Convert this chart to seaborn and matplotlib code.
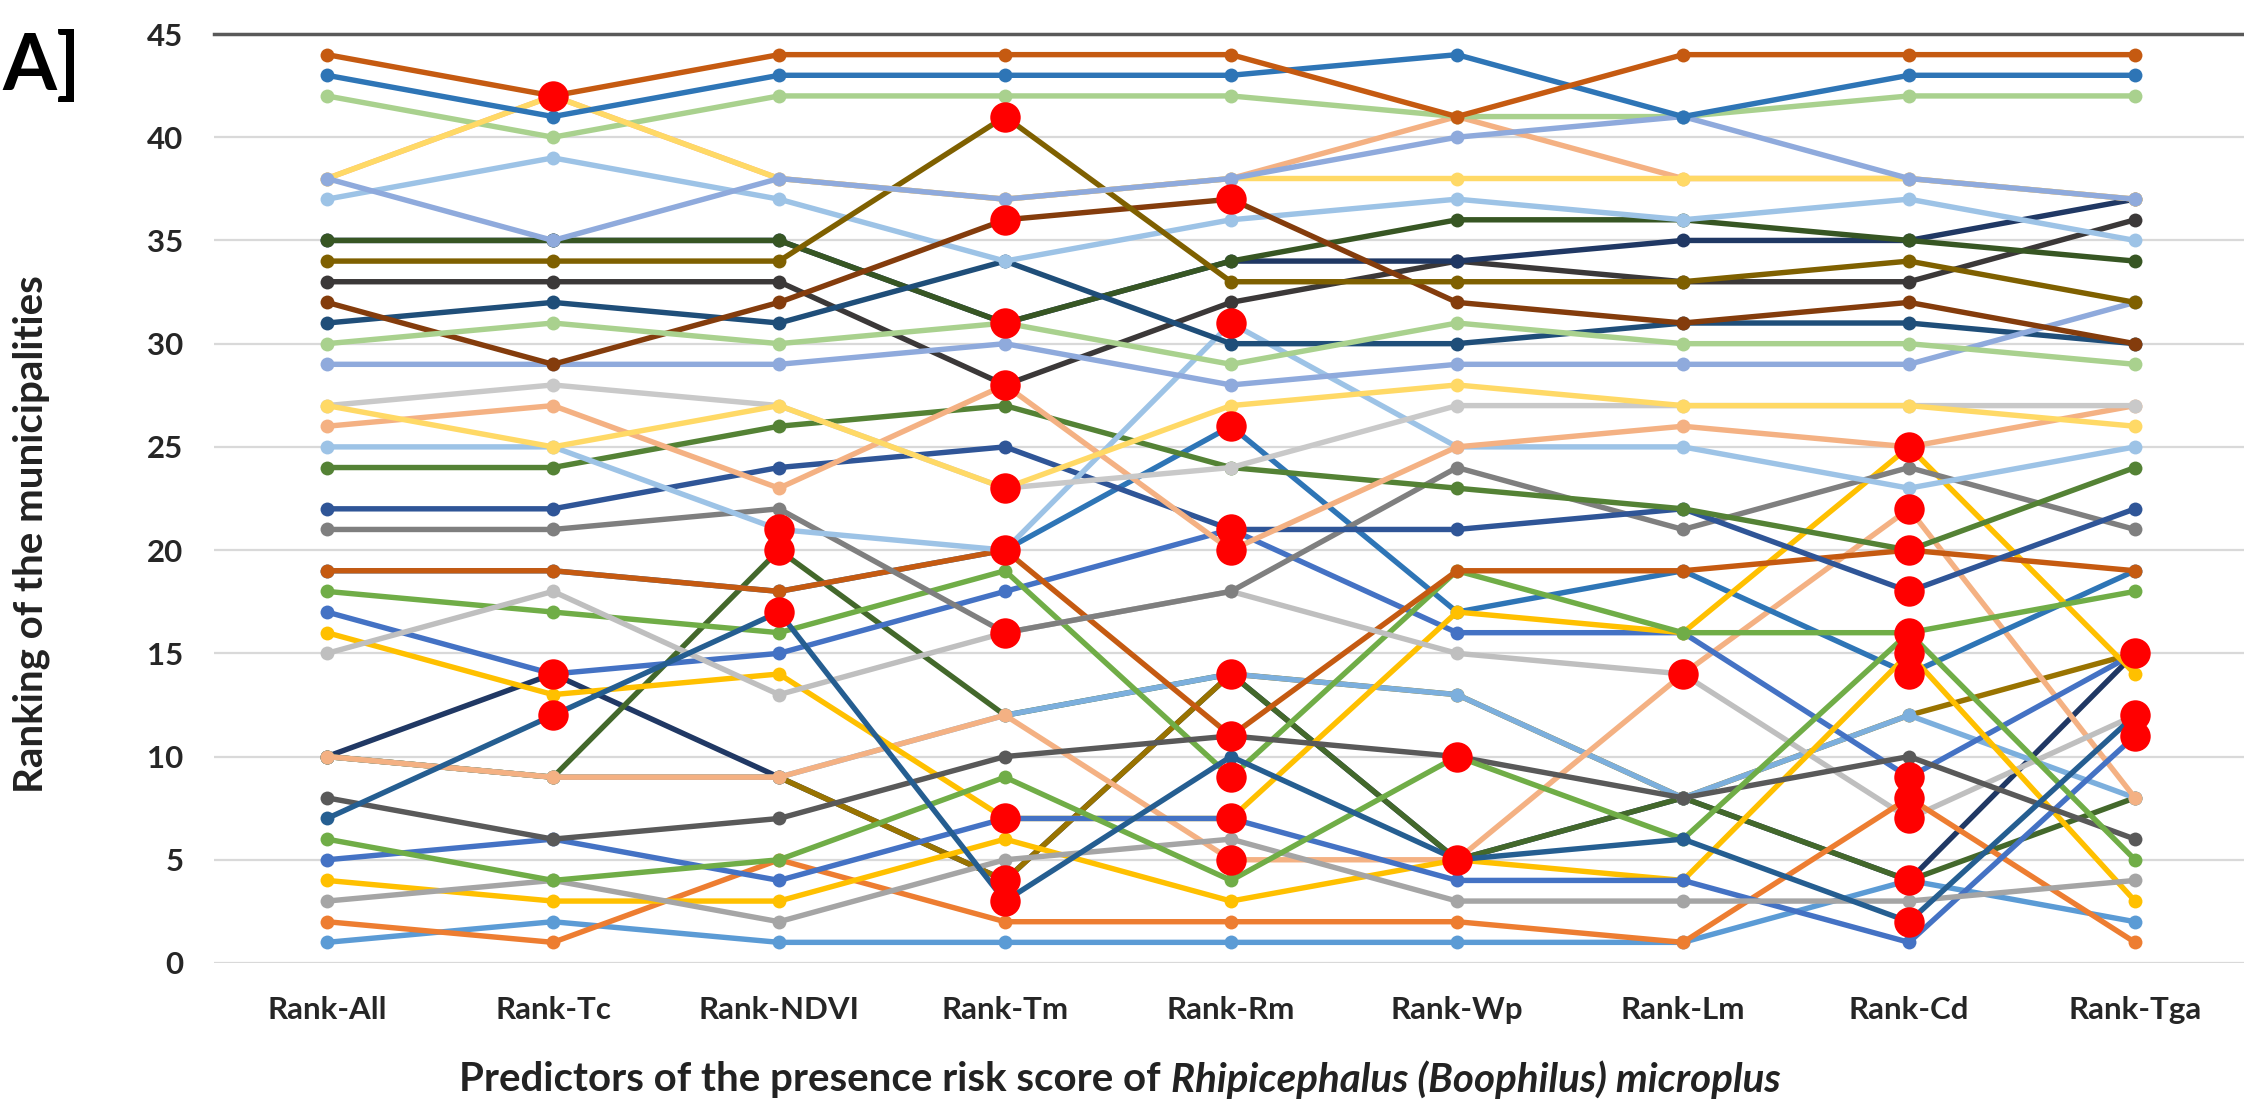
import matplotlib
matplotlib.use("Agg")
import matplotlib.pyplot as plt
import seaborn as sns
import pandas as pd

predictors = ["Rank-All", "Rank-Tc", "Rank-NDVI", "Rank-Tm", "Rank-Rm",
              "Rank-Wp", "Rank-Lm", "Rank-Cd", "Rank-Tga"]

# rank of each municipality (same order in every list) for each predictor
rank_all = [10, 10, 10, 10, 10, 19, 17, 16, 18, 19, 15, 21, 22, 24, 25, 26, 27, 27, 33, 35, 35,
            31, 37, 29, 32, 34, 30, 38, 42, 38, 38, 43, 44, 1, 2, 4, 5, 8, 3, 6, 7]
rank_tc = [14, 9, 9, 9, 9, 19, 14, 13, 17, 19, 18, 21, 22, 24, 25, 27, 28, 25, 33, 35, 35,
           32, 39, 29, 29, 34, 31, 42, 40, 42, 35, 41, 42, 2, 1, 3, 6, 6, 4, 4, 12]
rank_ndvi = [9, 20, 9, 9, 9, 18, 15, 14, 16, 18, 13, 22, 24, 26, 21, 23, 27, 27, 33, 35, 35,
             31, 37, 29, 32, 34, 30, 38, 42, 38, 38, 43, 44, 1, 5, 3, 4, 7, 2, 5, 17]
rank_tm = [4, 12, 4, 12, 12, 20, 18, 7, 19, 20, 16, 16, 25, 27, 20, 28, 23, 23, 28, 31, 31,
           34, 34, 30, 36, 41, 31, 37, 42, 37, 37, 43, 44, 1, 2, 6, 7, 10, 5, 9, 3]
rank_rm = [14, 14, 14, 14, 5, 26, 21, 7, 9, 11, 18, 18, 21, 24, 31, 20, 24, 27, 32, 34, 34,
           30, 36, 28, 37, 33, 29, 38, 42, 38, 38, 43, 44, 1, 2, 3, 7, 11, 6, 4, 10]
rank_wp = [5, 5, 13, 13, 5, 17, 16, 17, 19, 19, 15, 24, 21, 23, 25, 25, 27, 28, 34, 34, 36,
           30, 37, 29, 32, 33, 31, 41, 41, 38, 40, 44, 41, 1, 2, 5, 4, 10, 3, 10, 5]
rank_lm = [8, 8, 8, 8, 14, 19, 16, 16, 16, 19, 14, 21, 22, 22, 25, 26, 27, 27, 33, 35, 36,
           31, 36, 29, 31, 33, 30, 38, 41, 38, 41, 41, 44, 1, 1, 4, 4, 8, 3, 6, 6]
rank_cd = [4, 4, 12, 12, 22, 14, 9, 25, 16, 20, 7, 24, 18, 20, 23, 25, 27, 27, 33, 35, 35,
           31, 37, 29, 32, 34, 30, 38, 42, 38, 38, 43, 44, 4, 8, 15, 1, 10, 3, 16, 2]
rank_tga = [15, 8, 15, 8, 8, 19, 15, 14, 18, 19, 12, 21, 22, 24, 25, 27, 27, 26, 36, 37, 34,
            30, 35, 32, 30, 32, 29, 37, 42, 37, 37, 43, 44, 2, 1, 3, 11, 6, 4, 5, 12]

line_colors = ["#203864", "#43682B", "#997300", "#7CAFDD", "#F4B183", "#2E75B6", "#4472C4",
               "#FFC000", "#70AD47", "#C55A11", "#BFBFBF", "#7F7F7F", "#2F5597", "#548235",
               "#9DC3E6", "#F4B183", "#C9C9C9", "#FFD966", "#3B3838", "#203864", "#375623",
               "#1F4E79", "#9DC3E6", "#8FAADC", "#843C0C", "#7F6000", "#A9D18E", "#F4B183",
               "#A9D18E", "#FFD966", "#8FAADC", "#2E75B6", "#C55A11", "#5B9BD5", "#ED7D31",
               "#FFC000", "#4472C4", "#595959", "#A5A5A5", "#70AD47", "#255E91"]

# highlighted points (red dots)
red_predictor = (["Rank-Tc"] * 3 + ["Rank-NDVI"] * 3 + ["Rank-Tm"] * 10 + ["Rank-Rm"] * 10
                 + ["Rank-Wp"] * 2 + ["Rank-Lm"] + ["Rank-Cd"] * 12 + ["Rank-Tga"] * 3)
red_rank = [42, 14, 12,
            21, 20, 17,
            41, 36, 31, 28, 23, 20, 16, 7, 4, 3,
            37, 31, 26, 21, 20, 14, 11, 9, 7, 5,
            10, 5,
            14,
            25, 22, 20, 18, 16, 15, 14, 9, 8, 7, 4, 2,
            15, 12, 11]

sns.set_theme(style="white")
plt.rcParams['font.family'] = ['Lato', 'DejaVu Sans']

columns = [rank_all, rank_tc, rank_ndvi, rank_tm, rank_rm, rank_wp, rank_lm, rank_cd, rank_tga]
rows = []
for j, col in enumerate(columns):
    for i, r in enumerate(col):
        rows.append({"muni": f"M{i:02d}", "pos": j, "rank": r})
df = pd.DataFrame(rows)

W, H = 2244, 1100
fig = plt.figure(figsize=(W / 100, H / 100), dpi=100)
ax = fig.add_axes([214 / W, 137 / H, 2034 / W, 929 / H])

sns.lineplot(data=df, x="pos", y="rank", hue="muni", palette=line_colors,
             marker="o", markersize=10, markeredgewidth=0, linewidth=3.9,
             estimator=None, legend=False, ax=ax)

red_pos = [predictors.index(p) for p in red_predictor]
sns.scatterplot(x=red_pos, y=red_rank, color="#FF0000", s=480, linewidth=0,
                zorder=5, ax=ax)

ax.set_xlim(-0.5, 8.5)
ax.set_ylim(0, 45)
ax.set_yticks(range(0, 46, 5))
ax.set_xticks(range(len(predictors)))
ax.set_xticklabels(predictors)
ax.yaxis.grid(True, color="#D9D9D9", linewidth=1.6)
ax.xaxis.grid(False)
ax.set_axisbelow(True)
for s in ["left", "right", "bottom"]:
    ax.spines[s].set_visible(False)
ax.spines["top"].set_color("#595959")
ax.spines["top"].set_linewidth(2.5)
ax.tick_params(axis="both", length=0, labelsize=22.5, labelcolor="#262626")
ax.tick_params(axis="y", pad=22)
ax.tick_params(axis="x", pad=24)
for lab in ax.get_xticklabels() + ax.get_yticklabels():
    lab.set_fontweight("bold")
ax.set_xlabel("")
ax.set_ylabel("")

fig.text(31 / W, 1 - 534 / H, "Ranking of the municipalities", rotation=90,
         ha="center", va="center", fontsize=29, fontweight="bold", color="#222222")

fig.text(2 / W, 1 - 68 / H, "A]", ha="left", va="center", fontsize=56,
         fontweight="bold", color="black")

# x label with italic species name
fig.canvas.draw()
r = fig.canvas.get_renderer()
y_lab = 1 - 1080 / H
t1 = fig.text(0, y_lab, "Predictors of the presence risk score of ", ha="left", va="center",
              fontsize=29, fontweight="bold", color="#222222")
t2 = fig.text(0, y_lab, "Rhipicephalus (Boophilus) microplus", ha="left", va="center",
              fontsize=29, fontweight="bold", fontstyle="italic", color="#222222")
w1 = t1.get_window_extent(r).width
w2 = t2.get_window_extent(r).width
x0 = 1120 - (w1 + w2) / 2
t1.set_x(x0 / W)
t2.set_x((x0 + w1) / W)

fig.savefig("out.png", dpi=100)
